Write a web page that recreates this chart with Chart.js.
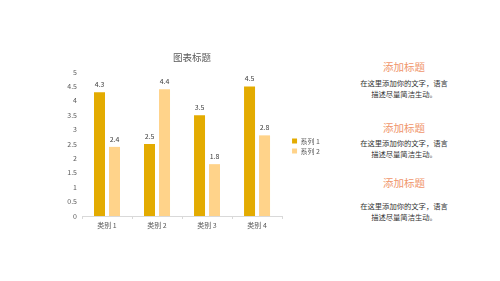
<!DOCTYPE html>
<html>
<head>
<meta charset="utf-8">
<script src="https://cdn.jsdelivr.net/npm/chart.js@4.4.1/dist/chart.umd.min.js"></script>
<style>
  html, body { margin: 0; padding: 0; background: #ffffff; }
  body { width: 500px; height: 281px; position: relative; overflow: hidden; font-family: "Noto Sans CJK SC", sans-serif; }
  #wrap { position: absolute; left: 0; top: 0; width: 340px; height: 281px; }
  .t { position: absolute; left: 344px; width: 120px; text-align: center; white-space: nowrap; }
  .h { font-size: 10.5px; line-height: 14px; color: #F0956B; }
  .b { font-size: 7.3px; line-height: 11px; color: #333333; }
</style>
</head>
<body>
<div id="wrap"><canvas id="c"></canvas></div>
<div class="t h" style="top:60px">添加标题</div>
<div class="t b" style="top:77.5px">在这里添加你的文字，语言<br>描述尽量简洁生动。</div>
<div class="t h" style="top:121px">添加标题</div>
<div class="t b" style="top:137.5px">在这里添加你的文字，语言<br>描述尽量简洁生动。</div>
<div class="t h" style="top:176px">添加标题</div>
<div class="t b" style="top:200.5px">在这里添加你的文字，语言<br>描述尽量简洁生动。</div>
<script>
const categories = ["类别 1", "类别 2", "类别 3", "类别 4"];
const series1 = [4.3, 2.5, 3.5, 4.5];
const series2 = [2.4, 4.4, 1.8, 2.8];
const seriesNames = ["系列 1", "系列 2"];
const yTickLabels = ["0", "0.5", "1", "1.5", "2", "2.5", "3", "3.5", "4", "4.5", "5"];
const chartTitle = "图表标题";

const FONT = '"Noto Sans CJK SC", "Noto Sans", sans-serif';

const dataLabels = {
  id: 'dataLabels',
  afterDatasetsDraw(chart) {
    const ctx = chart.ctx;
    ctx.save();
    ctx.font = '7px ' + FONT;
    ctx.fillStyle = '#404040';
    ctx.textAlign = 'center';
    ctx.textBaseline = 'middle';
    chart.data.datasets.forEach((ds, i) => {
      chart.getDatasetMeta(i).data.forEach((el, j) => {
        ctx.fillText(String(ds.data[j]), el.x, el.y - 8);
      });
    });
    ctx.restore();
  }
};

const legendShift = {
  id: 'legendShift',
  afterLayout(chart) {
    const l = chart.legend;
    if (l) { l.left += 7; l.right += 7; l.top += 2; l.bottom += 2; }
  }
};

new Chart(document.getElementById('c'), {
  type: 'bar',
  data: {
    labels: categories,
    datasets: [
      { label: seriesNames[0], data: series1, backgroundColor: '#E3AB00', categoryPercentage: 0.6, barPercentage: 0.733 },
      { label: seriesNames[1], data: series2, backgroundColor: '#FFD38A', categoryPercentage: 0.6, barPercentage: 0.733 }
    ]
  },
  options: {
    responsive: true,
    maintainAspectRatio: false,
    animation: false,
    devicePixelRatio: 1,
    layout: { padding: { left: 61, right: 17, top: 0, bottom: 45 } },
    plugins: {
      title: {
        display: true, text: chartTitle, color: '#595959',
        font: { family: FONT, size: 9.5, weight: 'normal' },
        padding: { top: 51.3, bottom: 9.3 }
      },
      legend: {
        display: true, position: 'right', align: 'center', fullSize: false,
        labels: {
          boxWidth: 5, boxHeight: 5, padding: 3, color: '#595959',
          font: { family: FONT, size: 7 }
        }
      },
      tooltip: { enabled: false }
    },
    scales: {
      x: {
        offset: true,
        grid: { display: true, drawOnChartArea: false, drawTicks: true, tickLength: 3, color: '#D9D9D9', offset: true },
        border: { display: true, color: '#D9D9D9' },
        ticks: { color: '#595959', font: { family: FONT, size: 7 }, padding: 2, maxRotation: 0 },
        afterFit(s) { s.height = 20; }
      },
      y: {
        min: 0, max: 5,
        grid: { display: false, drawTicks: false },
        border: { display: false },
        ticks: {
          stepSize: 0.5, color: '#595959', font: { family: FONT, size: 7 }, padding: 5,
          callback: (v, i) => yTickLabels[i]
        },
        afterFit(s) { s.width = 21; }
      }
    }
  },
  plugins: [dataLabels, legendShift]
});
</script>
</body>
</html>
